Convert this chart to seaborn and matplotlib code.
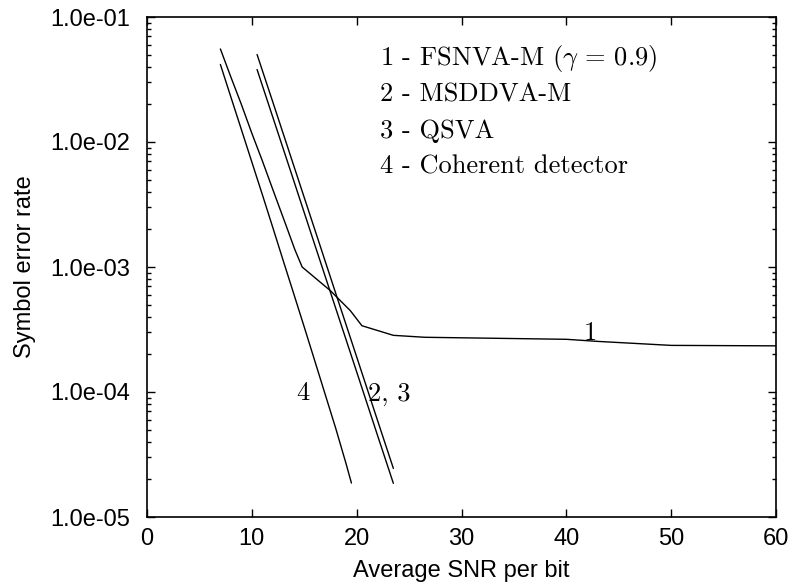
import numpy as np
import pandas as pd
import seaborn as sns
import matplotlib
matplotlib.use("Agg")
import matplotlib.pyplot as plt
from matplotlib.ticker import LogLocator, FuncFormatter, NullFormatter, NullLocator

# ---- data ----
snr_1 = [7, 8, 9, 10, 11, 12, 13.3, 14.1, 14.8, 17.5, 19.4, 20.5, 23.5, 26.5, 40, 43, 50, 60]
ser_1 = [0.0555, 0.0331, 0.0200, 0.01175, 0.00708, 0.00417, 0.00211, 0.00138, 0.00100,
         0.000646, 0.000447, 0.000339, 0.000284, 0.000274, 0.000264, 0.000254, 0.000236, 0.000234]

snr_2 = [10.5, 12, 14, 16, 18, 20, 22, 23.5]
ser_2 = [0.0501, 0.0209, 0.00646, 0.00200, 0.000617, 0.000191, 5.89e-5, 2.45e-5]

snr_3 = [10.5, 12, 14, 16, 18, 20, 22, 23.5]
ser_3 = [0.0380, 0.0158, 0.00490, 0.00151, 0.000468, 0.000145, 4.47e-5, 1.86e-5]

snr_4 = [7, 8, 9, 10, 11, 12, 13, 14, 15, 16, 17, 18, 19, 19.5]
ser_4 = [0.0417, 0.0229, 0.0126, 0.00692, 0.00380, 0.00207, 0.00112, 0.000610,
         0.000331, 0.000178, 9.55e-5, 5.13e-5, 2.65e-5, 1.87e-5]

curve_names = ["1", "2", "3", "4"]
legend_lines = [r"1 - FSNVA-M ($\gamma\,=\,0.9$)", "2 - MSDDVA-M", "3 - QSVA",
                "4 - Coherent detector"]
x_ticks = [0, 10, 20, 30, 40, 50, 60]
y_ticks = [1e-5, 1e-4, 1e-3, 1e-2, 1e-1]

frames = []
for name, xs, ys in zip(curve_names, [snr_1, snr_2, snr_3, snr_4], [ser_1, ser_2, ser_3, ser_4]):
    frames.append(pd.DataFrame({"snr": xs, "ser": ys, "curve": name}))
df = pd.concat(frames, ignore_index=True)

# ---- style ----
sns.set_theme(style="ticks")
plt.rcParams["font.family"] = ["Liberation Sans", "DejaVu Sans"]
plt.rcParams["mathtext.fontset"] = "cm"
for k in ["text.color", "axes.labelcolor", "xtick.color", "ytick.color", "axes.edgecolor"]:
    plt.rcParams[k] = "black"

fig = plt.figure(figsize=(7.97, 5.84), dpi=100)
ax = fig.add_axes([147 / 797, 1 - 517 / 584, 629 / 797, 500 / 584])
ax.set_yscale("log")

sns.lineplot(data=df, x="snr", y="ser", hue="curve", units="curve", estimator=None,
             sort=False, palette={n: "black" for n in curve_names}, linewidth=1.0,
             legend=False, ax=ax)

ax.set_xlim(0, 60)
ax.set_ylim(1e-5, 1e-1)
ax.set_xticks(x_ticks)
ax.xaxis.set_minor_locator(NullLocator())
ax.set_yticks(y_ticks)
ax.yaxis.set_minor_locator(LogLocator(base=10, subs=np.arange(2, 10)))
ax.yaxis.set_minor_formatter(NullFormatter())
ax.yaxis.set_major_formatter(FuncFormatter(lambda v, _: f"{v:.1e}"))

for s in ax.spines.values():
    s.set_linewidth(1.2)
    s.set_color("black")

ax.tick_params(which="both", direction="in", top=True, right=True, colors="black",
               labelcolor="black", labelsize=17, width=1.0)
ax.tick_params(axis="y", which="major", length=6, pad=12)
ax.tick_params(axis="y", which="minor", length=3)
ax.tick_params(axis="x", which="major", length=6, pad=8)

ax.set_xlabel("Average SNR per bit", fontsize=17, color="black")
ax.set_ylabel("Symbol error rate", fontsize=17, color="black")
ax.xaxis.set_label_coords(0.5, -0.085)
ax.yaxis.set_label_coords(-0.177, 0.5)

serif = ["cmr10", "DejaVu Serif"]
ys_leg = [0.904, 0.8306, 0.758, 0.688]
for txt, yy in zip(legend_lines, ys_leg):
    ax.text(0.370, yy, txt, transform=ax.transAxes, fontsize=19, family=serif,
            ha="left", va="baseline", color="black")

ax.text(14.85, 8.7e-5, "4", fontsize=19, family=serif, ha="center", va="baseline", color="black")
ax.text(21.1, 8.5e-5, "2, 3", fontsize=19, family=serif, ha="left", va="baseline", color="black")
ax.text(42.25, 2.62e-4, "1", fontsize=19, family=serif, ha="center", va="baseline", color="black")

fig.savefig("out.png", dpi=100)
